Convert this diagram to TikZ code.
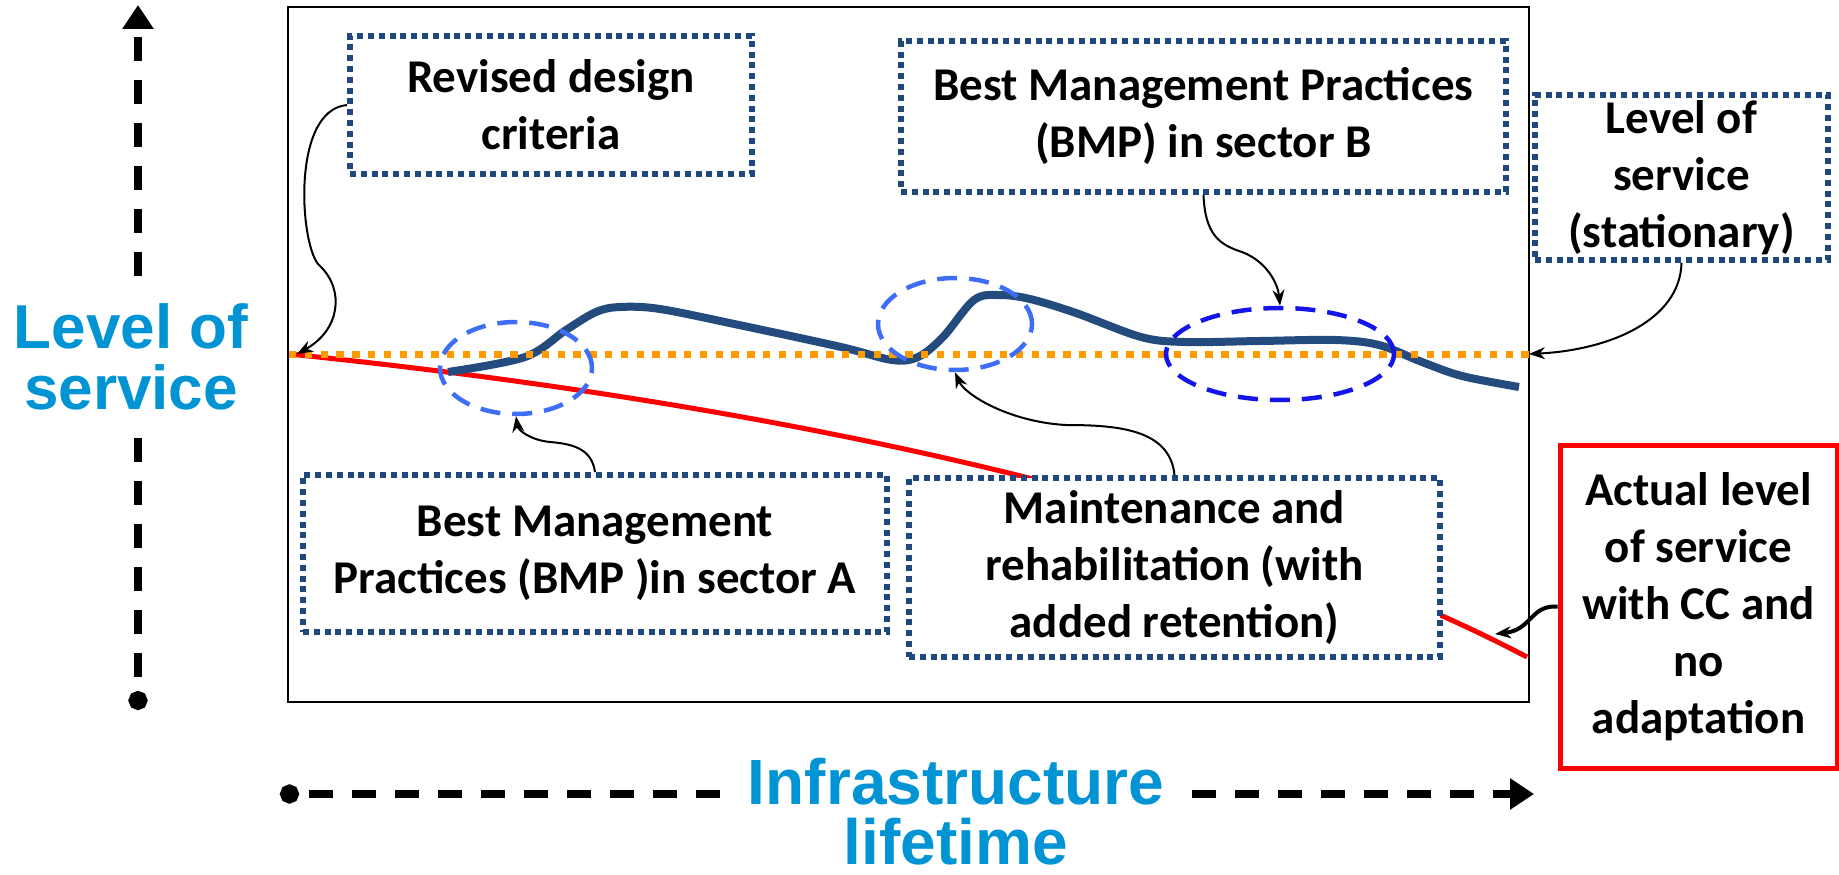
\documentclass[tikz,border=0pt]{standalone}
\usepackage{fontspec}
\setmainfont{Carlito}
\newfontfamily\axisfont{Liberation Sans}
\usetikzlibrary{arrows.meta,shapes.geometric}

\definecolor{boxblue}{RGB}{31,73,125}
\definecolor{curveblue}{RGB}{36,75,126}
\definecolor{ringblue}{RGB}{61,110,245}
\definecolor{ringdeep}{RGB}{20,20,235}
\definecolor{lineorange}{RGB}{255,154,0}
\definecolor{axisblue}{RGB}{0,148,212}
\definecolor{lossred}{RGB}{255,0,0}

\begin{document}
\begin{tikzpicture}[x=1pt,y=-1pt,
  note/.style={rectangle, draw=boxblue, line width=5.8pt,
    dash pattern=on 6pt off 4.8pt, fill=white, inner sep=0pt,
    align=center, font=\fontsize{47}{57}\selectfont\bfseries},
  alert/.style={rectangle, draw=lossred, line width=5pt, fill=white,
    inner sep=0pt, align=center, font=\fontsize{47}{57}\selectfont\bfseries},
  ring/.style={ellipse, draw=ringblue, line width=4.5pt,
    dash pattern=on 20pt off 12pt, inner sep=0pt},
  link/.style={draw=black, line width=2pt, -{Stealth[length=16pt,width=12pt]}},
  axisline/.style={line width=8pt, dash pattern=on 24pt off 19pt},
  dotend/.style={-{Circle[length=19pt]}},
  tipend/.style={-{Triangle[length=24pt,width=30pt]}},
  axislabel/.style={inner sep=0pt, text=axisblue, align=center}
]
\useasboundingbox (0,0) rectangle (1839,875);

% plot frame
\draw[line width=2pt] (288,7) rectangle (1529,702);

% reference level (start and end of the stationary line)
\coordinate (lvl0) at (289,354);
\coordinate (lvl1) at (1529,354);
\coordinate (redend) at (1527,657);

% actual level of service without adaptation
\draw[draw=lossred, line width=5pt] (lvl0) .. controls (700,396) and (1200,485) .. (redend);

% level of service with adaptation measures
\draw[draw=curveblue, line width=8pt] plot[smooth, tension=0.55] coordinates {
  (448,372) (525,357) (566,330) (596,312) (620,307) (660,309) (739,325)
  (841,347) (892,360) (918,357) (943,337) (974,300) (999,295) (1030,299)
  (1076,313) (1141,337) (1185,342) (1260,341) (1335,340) (1379,345)
  (1422,362) (1462,376) (1519,387)};

% stationary level of service
\draw[draw=lineorange, line width=7pt, dash pattern=on 7.3pt off 8.5pt] (lvl0) -- (lvl1);

% highlighted interventions
\node[ring, minimum width=152pt, minimum height=92pt] (e1) at (516,368) {};
\node[ring, minimum width=154pt, minimum height=92pt] (e2) at (955,324) {};
\node[ring, draw=ringdeep, minimum width=228pt, minimum height=92pt] (e3) at (1280,354) {};

% annotation boxes
\node[note, minimum width=402pt, minimum height=138pt] (b1) at (551,105) {Revised design\\criteria};
\node[note, minimum width=605pt, minimum height=151pt] (b2) at (1203.5,116.5) {Best Management Practices\\(BMP) in sector B};
\node[note, minimum width=293pt, minimum height=165pt] (b3) at (1681.5,177.5) {Level of\\service\\(stationary)};
\node[note, minimum width=584pt, minimum height=157pt] (b4) at (595,553.5) {Best Management\\Practices (BMP )in sector A};
\node[note, minimum width=531pt, minimum height=179pt] (b5) at (1174.5,567.5) {Maintenance and\\rehabilitation (with\\added retention)};
\node[alert, minimum width=277pt, minimum height=323pt] (b6) at (1698.5,606.5) {Actual level\\of service\\with CC and\\no\\adaptation};

% connectors
\coordinate (tip6) at (1495,634);
\draw[link] (b1.west) .. controls (290,110) and (300,250) .. (320,266)
  .. controls (345,290) and (340,330) .. ([xshift=8pt]lvl0);
\draw[link] (b2.south) .. controls (1205,235) and (1220,245) .. (1242,252)
  .. controls (1268,262) and (1278,285) .. (e3.north);
\draw[link] (b3.south) .. controls (1680,320) and (1610,350) .. (lvl1);
\draw[link] (b4.north) .. controls (592,450) and (575,444) .. (550,442)
  .. controls (530,440) and (518,430) .. (e1.south);
\draw[link] (b5.north) .. controls (1170,430) and (1120,425) .. (1066,425)
  .. controls (1010,422) and (965,395) .. (e2.south);
\draw[link, line width=4pt] (b6.west) .. controls (1530,605) and (1532,630) .. (tip6);

% axes with their titles
\coordinate (vlow) at (138,710);
\coordinate (vtop) at (138,5);
\coordinate (hleft) at (280,794);
\coordinate (hright) at (1534,794);
\node[axislabel, minimum height=162pt, font=\fontsize{62}{61}\selectfont\axisfont\bfseries] (ylab) at (131,357) {Level of\\service};
\node[axislabel, minimum width=472pt, font=\fontsize{64}{60}\selectfont\axisfont\bfseries] (xlab) at (956,812) {Infrastructure\\lifetime};
\draw[axisline, dotend] (ylab.south -| vlow) -- (vlow);
\draw[axisline, tipend] (ylab.north -| vtop) -- (vtop);
\draw[axisline, dotend] (xlab.west |- hleft) -- (hleft);
\draw[axisline, tipend] (xlab.east |- hright) -- (hright);
\end{tikzpicture}
\end{document}
